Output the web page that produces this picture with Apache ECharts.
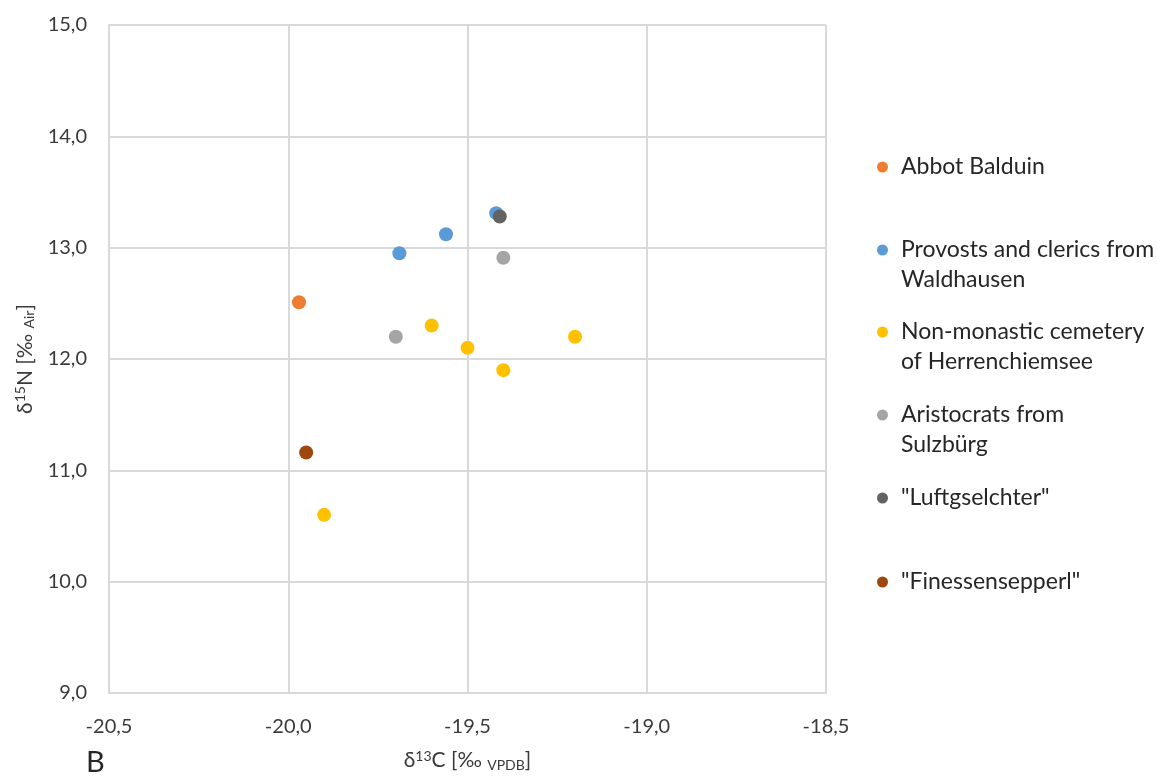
<!DOCTYPE html>
<html><head><meta charset="utf-8">
<script src="https://cdn.jsdelivr.net/npm/echarts@6/dist/echarts.min.js"></script>
<style>html,body{margin:0;padding:0;background:#fff}#c{width:1157px;height:780px}</style>
</head><body><div id="c"></div>
<script>
const seriesNames = ['Abbot Balduin','Provosts and clerics from\nWaldhausen','Non-monastic cemetery\nof Herrenchiemsee','Aristocrats from\nSulzbürg','"Luftgselchter"','"Finessensepperl"'];
const colors = ['#ED7D31','#5B9BD5','#FFC000','#A5A5A5','#636363','#9E480E'];
const abbotX = [-19.97], abbotY = [12.51];
const provostX = [-19.69, -19.56, -19.42], provostY = [12.95, 13.12, 13.31];
const nonMonX = [-19.60, -19.50, -19.40, -19.20, -19.90], nonMonY = [12.30, 12.10, 11.90, 12.20, 10.60];
const aristoX = [-19.70, -19.40], aristoY = [12.20, 12.91];
const luftX = [-19.41], luftY = [13.28];
const fineX = [-19.95], fineY = [11.16];
const xTicks = [-20.5, -20.0, -19.5, -19.0, -18.5];
const yTicks = [9, 10, 11, 12, 13, 14, 15];
const xs = [abbotX, provostX, nonMonX, aristoX, luftX, fineX];
const ys = [abbotY, provostY, nonMonY, aristoY, luftY, fineY];
const legendCenters = [167, 250, 332, 415, 498, 582];

const font = 'Lato';
const txt = '#3a3a3a';
const fmt = v => v.toFixed(1).replace('.', ',');
const series = seriesNames.map((n, i) => ({
  name: n, type: 'scatter', symbol: 'circle', symbolSize: 14,
  itemStyle: {color: colors[i], opacity: 1},
  data: xs[i].map((x, j) => [x, ys[i][j]])
}));
const legends = seriesNames.map((n, i) => {
  const two = n.indexOf('\n') >= 0;
  return {
    data: [n], orient: 'vertical', left: 877, top: legendCenters[i] - (two ? 45 : 15),
    padding: 0, itemWidth: 11, itemHeight: 11, icon: 'circle',
    formatter: two ? (s => '\n' + s) : undefined,
    textStyle: {fontFamily: font, fontSize: 23, color: '#262626', lineHeight: 30, padding: [0, 0, 0, 8]}
  };
});
const chart = echarts.init(document.getElementById('c'));
chart.setOption({
  backgroundColor: '#fff',
  animation: false,
  grid: {left: 109, right: 331, top: 25, bottom: 87, containLabel: false},
  legend: legends,
  title: {text: 'B', left: 86, top: 748, padding: 0, textStyle: {fontFamily: font, fontSize: 29, fontWeight: 'normal', color: '#262626'}},
  xAxis: {
    type: 'value', min: xTicks[0], max: xTicks[xTicks.length - 1], interval: 0.5,
    axisLine: {show: true, onZero: false, lineStyle: {color: '#D9D9D9', width: 2}},
    axisTick: {show: false},
    splitLine: {show: true, lineStyle: {color: '#D9D9D9', width: 2}},
    axisLabel: {formatter: fmt, fontFamily: font, fontSize: 20, color: txt, margin: 24},
    name: '{a|δ}{s|13}{a|C [‰ }{b|VPDB}{a|]}', nameLocation: 'middle', nameGap: 56,
    nameTextStyle: {rich: {
      a: {fontFamily: font, fontSize: 21, color: txt},
      s: {fontFamily: font, fontSize: 14, color: txt, padding: [0,0,9,0]},
      b: {fontFamily: font, fontSize: 14, color: txt, padding: [9,0,0,0]}
    }}
  },
  yAxis: {
    type: 'value', min: yTicks[0], max: yTicks[yTicks.length - 1], interval: 1,
    axisLine: {show: true, lineStyle: {color: '#D9D9D9', width: 2}},
    axisTick: {show: false},
    splitLine: {show: true, lineStyle: {color: '#D9D9D9', width: 2}},
    axisLabel: {formatter: fmt, fontFamily: font, fontSize: 20, color: txt, margin: 22},
    name: '{a|δ}{s|15}{a|N [‰ }{b|Air}{a|]}', nameLocation: 'middle', nameGap: 64, nameRotate: 90,
    nameTextStyle: {rich: {
      a: {fontFamily: font, fontSize: 21, color: txt},
      s: {fontFamily: font, fontSize: 14, color: txt, padding: [0,0,9,0]},
      b: {fontFamily: font, fontSize: 14, color: txt, padding: [9,0,0,0]}
    }}
  },
  series: series
});
</script></body></html>
